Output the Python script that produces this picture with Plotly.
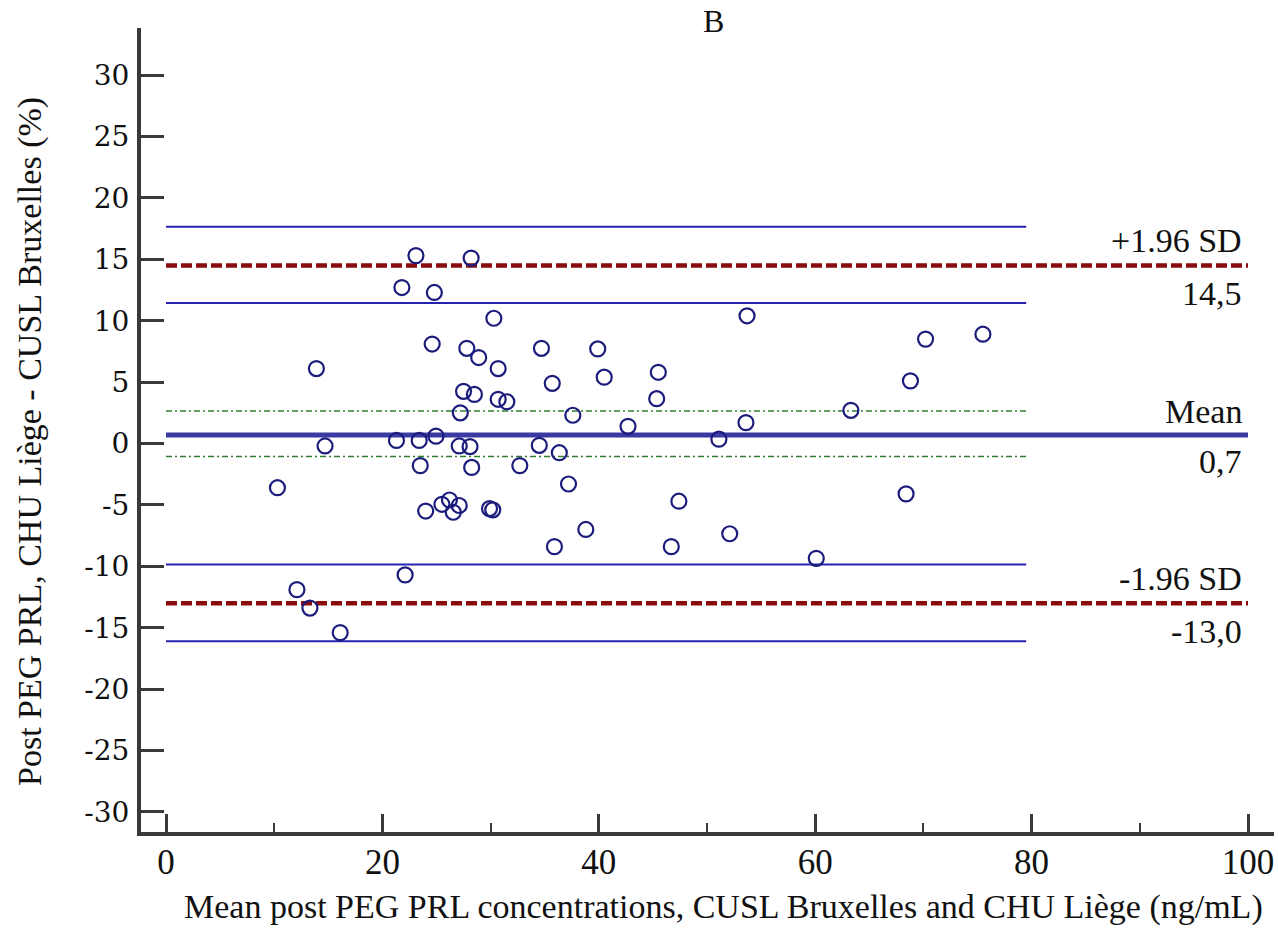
import plotly.graph_objects as go

# Bland-Altman data: mean concentration (ng/mL) vs relative difference (%)
mean_conc = [
    23.1, 28.2, 21.8, 24.8, 30.3, 24.6, 27.8, 28.9, 30.7, 34.7,
    35.7, 13.9, 27.5, 28.5, 30.7, 31.5, 27.2, 24.95, 21.3, 23.4,
    14.7, 27.1, 28.1, 34.5, 36.35, 23.5, 28.25, 32.7, 10.3, 24.0,
    25.5, 26.2, 27.1, 26.55, 29.9, 30.2, 35.9, 22.1, 12.1, 13.3,
    16.1, 53.7, 39.9, 40.5, 45.5, 45.35, 70.2, 75.5, 68.8, 37.6,
    42.7, 53.6, 63.3, 51.1, 37.2, 47.4, 68.4, 38.8, 52.1, 46.7,
    60.1,
]
rel_diff = [
    15.3, 15.1, 12.7, 12.3, 10.2, 8.1, 7.75, 7.0, 6.1, 7.75,
    4.9, 6.1, 4.25, 4.0, 3.6, 3.4, 2.5, 0.6, 0.25, 0.25,
    -0.2, -0.2, -0.25, -0.15, -0.75, -1.8, -1.95, -1.8, -3.6, -5.5,
    -4.95, -4.6, -5.05, -5.6, -5.3, -5.4, -8.4, -10.7, -11.9, -13.4,
    -15.4, 10.4, 7.7, 5.4, 5.8, 3.65, 8.5, 8.9, 5.1, 2.3,
    1.4, 1.7, 2.7, 0.35, -3.3, -4.7, -4.1, -7.0, -7.35, -8.4,
    -9.35,
]

# Summary statistics
mean_diff = 0.7
upper_loa = 14.5
lower_loa = -13.0
mean_ci = [-1.05, 2.65]
upper_loa_ci = [11.45, 17.65]
lower_loa_ci = [-16.1, -9.85]

full_span = [0, 100]
ci_span = [0, 79.5]

x_ticks = [0, 20, 40, 60, 80, 100]
y_ticks = [-30, -25, -20, -15, -10, -5, 0, 5, 10, 15, 20, 25, 30]
y_tick_text = [str(v) for v in y_ticks]

serif = "Liberation Serif, Times New Roman, serif"
axis_col = "#3a3a3a"
ci_blue = "#2424b0"
text_col = "#111111"

# pixel geometry of the plotting area
L, R, T, B = 141, 1274, 28, 832

fig = go.Figure()

def hline(xs, yv, color, width, dash="solid"):
    fig.add_trace(go.Scatter(
        x=xs, y=[yv, yv], mode="lines",
        line=dict(color=color, width=width, dash=dash),
        hoverinfo="skip", showlegend=False,
    ))

# Confidence intervals of the limits of agreement
for v in upper_loa_ci + lower_loa_ci:
    hline(ci_span, v, ci_blue, 2)
# Confidence interval of the mean difference
for v in mean_ci:
    hline(ci_span, v, "#2f7d2f", 1.5, "6px,3px,2px,3px")
# Limits of agreement
for v in (upper_loa, lower_loa):
    hline(full_span, v, "#8b0c0c", 4.5, "11px,4px")
# Mean difference
hline(full_span, mean_diff, "#3a3aa2", 5)

fig.add_trace(go.Scatter(
    x=mean_conc, y=rel_diff, mode="markers",
    marker=dict(symbol="circle-open", size=15, color="#1c1c7c",
                line=dict(width=2.2, color="#1c1c7c")),
    showlegend=False,
))

ann_font = dict(family=serif, size=34, color=text_col)
labels = [
    ("+1.96 SD", upper_loa, 25), (f"{upper_loa:.1f}".replace(".", ","), upper_loa, -28),
    ("Mean", mean_diff, 23), (f"{mean_diff:.1f}".replace(".", ","), mean_diff, -27),
    ("-1.96 SD", lower_loa, 25), (f"{lower_loa:.1f}".replace(".", ","), lower_loa, -28),
]
for txt, yv, shift in labels:
    fig.add_annotation(x=99.6, y=yv, xref="x", yref="y", text=txt,
                       showarrow=False, xanchor="right", yanchor="middle",
                       yshift=shift, font=ann_font)

fig.add_annotation(
    text="B", xref="paper", yref="paper",
    x=(713 - L) / (R - L), y=1 + (T - 21) / (B - T),
    xanchor="center", yanchor="middle", showarrow=False,
    font=dict(family=serif, size=32, color=text_col),
)
fig.add_annotation(
    text="Mean post PEG PRL concentrations, CUSL Bruxelles and CHU Liège (ng/mL)",
    xref="paper", yref="paper", x=(723 - L) / (R - L),
    y=-(907 - B) / (B - T), xanchor="center", yanchor="middle",
    showarrow=False, font=dict(family=serif, size=34, color=text_col),
)
fig.add_annotation(
    text="Post PEG PRL, CHU Liège - CUSL Bruxelles (%)",
    xref="paper", yref="paper", x=-(L - 30) / (R - L),
    y=(B - 442) / (B - T), xanchor="center", yanchor="middle",
    textangle=-90, showarrow=False,
    font=dict(family=serif, size=34, color=text_col),
)

fig.update_xaxes(
    range=[(L - 166) / 10.82, (R - 166) / 10.82],
    tickvals=x_ticks, ticks="inside", ticklen=18, tickwidth=2.5, tickcolor=axis_col,
    minor=dict(dtick=10, tick0=0, ticks="inside", ticklen=9, tickwidth=1.5, tickcolor=axis_col),
    showline=True, linewidth=4, linecolor=axis_col, showgrid=False, zeroline=False,
    tickfont=dict(family=serif, size=35, color=text_col), ticklabelstandoff=-4,
)
fig.update_yaxes(
    range=[(443.5 - B) / 12.28, (443.5 - T) / 12.28],
    tickvals=y_ticks, ticktext=y_tick_text, ticks="inside", ticklen=23,
    tickwidth=2.5, tickcolor=axis_col,
    showline=True, linewidth=4, linecolor=axis_col, showgrid=False, zeroline=False,
    tickfont=dict(family="DejaVu Serif", size=28, color=text_col),
    ticklabelstandoff=2,
)

fig.update_layout(
    width=1278, height=935,
    margin=dict(l=L, r=1278 - R, t=T, b=935 - B),
    plot_bgcolor="white", paper_bgcolor="white",
    showlegend=False,
)

fig.write_html("out.html")
